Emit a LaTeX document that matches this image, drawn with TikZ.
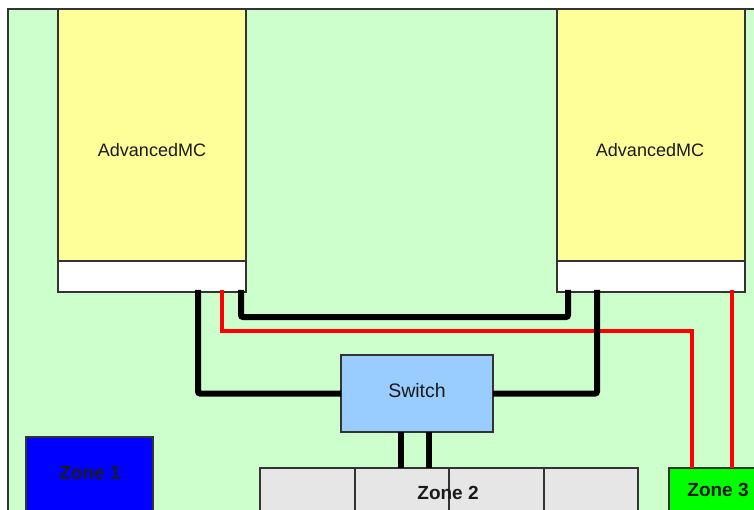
\documentclass[tikz,border=0pt]{standalone}
\usepackage{fontspec}
\setmainfont{Liberation Sans}
\definecolor{bggreen}{HTML}{CCFFCC}
\definecolor{amcyellow}{HTML}{FFFF99}
\definecolor{swblue}{HTML}{99CCFF}
\definecolor{zgrey}{HTML}{E6E6E6}
\definecolor{edge}{HTML}{333333}
\definecolor{txt}{HTML}{1A1A1A}
\begin{document}
\begin{tikzpicture}[x=1pt,y=-1pt,
  box/.style={draw=edge,line width=1.1pt,inner sep=0pt,outer sep=0pt,anchor=north west},
  amc/.style={box,fill=amcyellow,minimum width=188pt,minimum height=252pt},
  strip/.style={box,fill=white,minimum width=188pt,minimum height=31pt},
  lbl/.style={text=txt,font=\fontsize{18}{20}\selectfont},
  swlbl/.style={text=txt,font=\fontsize{19.5}{22}\selectfont},
  zlbl/.style={text=txt,font=\bfseries\fontsize{19}{22}\selectfont},
  blackwire/.style={line width=6pt,black,rounded corners=2pt},
  redwire/.style={line width=3.5pt,red}]
\useasboundingbox (0,0) rectangle (754,510);
% carrier board
\node[box,fill=bggreen,minimum width=780pt,minimum height=540pt] (board) at (8,9) {};
% AdvancedMC modules
\node[amc] (amcL) at (58,9) {};
\node[strip] (stripL) at (58,261) {};
\node[lbl] at (152,150) {AdvancedMC};
\node[amc] (amcR) at (557,9) {};
\node[strip] (stripR) at (557,261) {};
\node[lbl] at (650,150) {AdvancedMC};
% switch
\node[box,fill=swblue,minimum width=152pt,minimum height=77pt] (sw) at (341,355) {};
\node[swlbl] at (417,391) {Switch};
% zones
\node[box,fill=blue,minimum width=127pt,minimum height=100pt] (z1) at (26,437) {};
\node[zlbl] at (90,473) {Zone 1};
\node[box,fill=zgrey,minimum width=378pt,minimum height=60pt] (z2) at (260,468) {};
\draw[edge,line width=1.1pt] (355,468) -- (355,512) (449,468) -- (449,512) (544,468) -- (544,512);
\node[zlbl] at (448,493) {Zone 2};
\node[box,fill=green,minimum width=100pt,minimum height=60pt] (z3) at (669,468) {};
\node[zlbl] at (718,490) {Zone 3};
% connector end points
\coordinate (pL1) at (198,290);
\coordinate (pL2) at (241,290);
\coordinate (pL3) at (222,290);
\coordinate (pR1) at (568,290);
\coordinate (pR2) at (597,290);
\coordinate (pR3) at (732,290);
\coordinate (z3a) at (692,468);
\coordinate (z3b) at (732,468);
\coordinate (swb1) at (401,432);
\coordinate (swb2) at (429,432);
\coordinate (z2a) at (401,468);
\coordinate (z2b) at (429,468);
% wires
\draw[redwire] (pL3) |- (692,331) -- (z3a);
\draw[redwire] (pR3) -- (z3b);
\draw[blackwire] (pL1) |- (sw.west);
\draw[blackwire] (pR2) |- (sw.east);
\draw[blackwire] (pL2) |- (568,317) -- (pR1);
\draw[line width=6pt] (swb1) -- (z2a);
\draw[line width=6pt] (swb2) -- (z2b);
\end{tikzpicture}
\end{document}
